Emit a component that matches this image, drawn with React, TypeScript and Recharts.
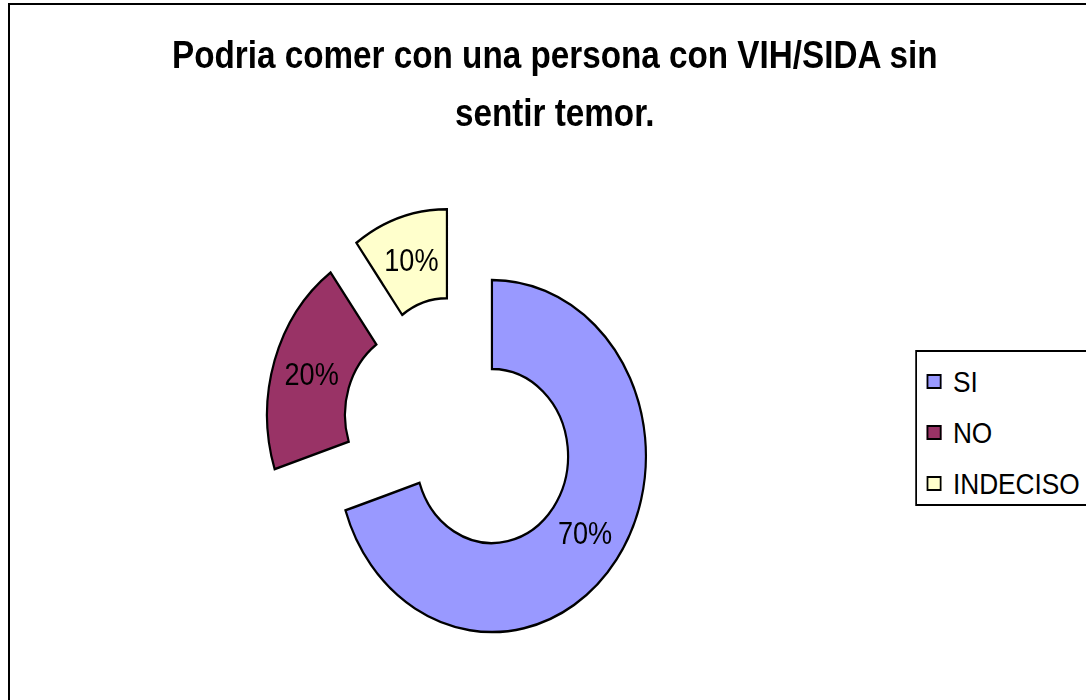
import React from 'react'
import { PieChart, Pie, Cell, Legend, Sector } from 'recharts'

const categories = ['SI', 'NO', 'INDECISO']
const values = [70, 20, 10]
const colors = ['#9999FF', '#993366', '#FFFFCC']
const titleLines = ['Podria comer con una persona con VIH/SIDA sin', 'sentir temor.']

const data = categories.map((name, i) => ({ name, value: values[i] }))

const RAD = Math.PI / 180
const EXPLODE = 46
// the original picture is squeezed horizontally, so the whole chart is too
const SCALE_X = 0.875
const W = 1241
const H = 700
const FONT = '"Liberation Sans", Arial, sans-serif'

function ExplodedSector(props: any) {
  const { cx, cy, midAngle } = props
  const dx = EXPLODE * Math.cos(-midAngle * RAD)
  const dy = EXPLODE * Math.sin(-midAngle * RAD)
  return <Sector {...props} cx={cx + dx} cy={cy + dy} />
}

function renderLabel(props: any) {
  const { cx, cy, midAngle, innerRadius, outerRadius, percent } = props
  const r = (innerRadius + outerRadius) / 2 + EXPLODE
  const x = cx + r * Math.cos(-midAngle * RAD)
  const y = cy + r * Math.sin(-midAngle * RAD)
  return (
    <text x={x} y={y} textAnchor="middle" dominantBaseline="central" fontSize={31} fontFamily={FONT} fill="#000">
      {`${Math.round(percent * 100)}%`}
    </text>
  )
}

function renderLegend(props: any) {
  const payload = [...(props.payload ?? [])].sort(
    (a: any, b: any) => categories.indexOf(a.value) - categories.indexOf(b.value)
  )
  return (
    <div
      style={{
        border: '2px solid #000',
        background: '#fff',
        width: 230,
        height: 156,
        boxSizing: 'border-box',
        paddingTop: 4,
        fontFamily: FONT,
        fontSize: 30,
        color: '#000',
      }}
    >
      {payload.map((entry: any) => (
        <div key={entry.value} style={{ display: 'flex', alignItems: 'center', height: 51, paddingLeft: 11 }}>
          <span
            style={{
              display: 'inline-block',
              width: 17,
              height: 15,
              background: entry.color ?? colors[categories.indexOf(entry.value)],
              border: '2px solid #000',
              boxSizing: 'border-box',
              marginRight: 13,
            }}
          />
          <span>{entry.value}</span>
        </div>
      ))}
    </div>
  )
}

export default function App() {
  return (
    <div style={{ position: 'absolute', left: 0, top: 0, width: 1086, height: 700, overflow: 'hidden', background: '#fff' }}>
      <div
        style={{
          position: 'absolute',
          left: 8,
          top: 3,
          width: 1100,
          height: 720,
          border: '2px solid #000',
        }}
      />
      <div
        style={{
          position: 'absolute',
          left: 0,
          top: 0,
          width: W,
          height: H,
          transform: `scaleX(${SCALE_X})`,
          transformOrigin: '0 0',
          fontFamily: FONT,
        }}
      >
        {titleLines.map((line, i) => (
          <div
            key={line}
            style={{
              position: 'absolute',
              left: 0,
              width: 1268,
              top: 36 + i * 58,
              textAlign: 'center',
              fontSize: 38,
              lineHeight: '38px',
              fontWeight: 'bold',
              color: '#000',
              whiteSpace: 'nowrap',
            }}
          >
            {line}
          </div>
        ))}
        <div style={{ position: 'absolute', left: 0, top: 0 }}>
          <PieChart width={W} height={H} margin={{ top: 0, right: 0, bottom: 0, left: 0 }}>
            <Pie
              data={data}
              dataKey="value"
              nameKey="name"
              cx={525}
              cy={429}
              innerRadius={87}
              outerRadius={176}
              startAngle={90}
              endAngle={-270}
              stroke="#000"
              strokeWidth={2.5}
              shape={ExplodedSector}
              label={renderLabel}
              labelLine={false}
              isAnimationActive={false}
            >
              {data.map((d, i) => (
                <Cell key={d.name} fill={colors[i]} />
              ))}
            </Pie>
            <Legend
              layout="vertical"
              align="right"
              verticalAlign="middle"
              content={renderLegend}
              wrapperStyle={{ left: 1046, top: 350, width: 'auto' }}
            />
          </PieChart>
        </div>
      </div>
    </div>
  )
}
